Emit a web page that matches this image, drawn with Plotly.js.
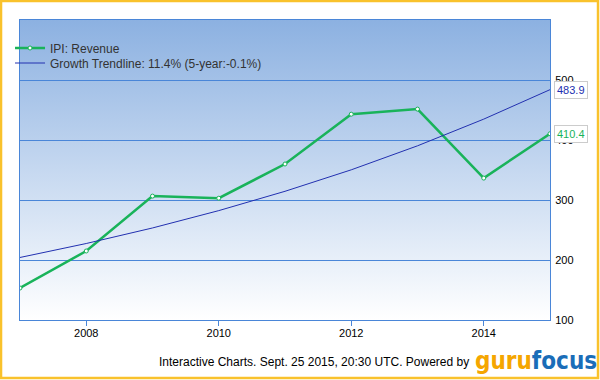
<!DOCTYPE html>
<html><head><meta charset="utf-8">
<script src="https://cdn.plot.ly/plotly-3.0.1.min.js"></script>
<style>html,body{margin:0;padding:0;background:#fff;}#c{width:600px;height:380px;}</style>
</head><body><div id="c"></div>
<script>
const years = [2007, 2008, 2009, 2010, 2011, 2012, 2013, 2014, 2015];
const revenue = [153.3, 215, 306.5, 303, 360, 443, 451.5, 336.5, 410.4];
const trend = [204.2, 227.5, 253.4, 282.3, 314.5, 350.3, 390.3, 434.8, 483.9];
const xTicks = [2008, 2010, 2012, 2014];
const yTicks = [100, 200, 300, 400, 500];
const revName = 'IPI: Revenue';
const trendName = 'Growth Trendline: 11.4% (5-year:-0.1%)';
const footer = 'Interactive Charts. Sept. 25 2015, 20:30 UTC. Powered by';

const grad = 'data:image/svg+xml;utf8,' + encodeURIComponent(
 '<svg xmlns="http://www.w3.org/2000/svg" width="100" height="100" preserveAspectRatio="none"><defs><linearGradient id="g" x1="0" y1="0" x2="0" y2="1"><stop offset="0" stop-color="#8cb1e1"/><stop offset="1" stop-color="#ffffff"/></linearGradient></defs><rect width="100" height="100" fill="url(#g)"/></svg>');

const data = [
 {x: years, y: revenue, name: revName, type: 'scatter', mode: 'lines+markers', legend: 'legend',
  line: {color: '#19b35a', width: 2.5},
  marker: {color: '#ffffff', size: 4, line: {color: '#19b35a', width: 1}}},
 {x: years, y: trend, name: trendName, type: 'scatter', mode: 'lines', legend: 'legend2',
  line: {color: '#2230b0', width: 1}}
];

const legStyle = {xref: 'container', yref: 'container', x: 0.0167, xanchor: 'left', yanchor: 'middle',
 bgcolor: 'rgba(0,0,0,0)', font: {size: 12, color: '#333'}, itemwidth: 30};

const last = years.length - 1;
const layout = {
 width: 600, height: 380,
 margin: {l: 20, r: 50, t: 20, b: 60, autoexpand: false},
 paper_bgcolor: '#ffffff', plot_bgcolor: 'rgba(0,0,0,0)',
 font: {family: 'Arial, Liberation Sans, sans-serif', size: 11, color: '#000'},
 showlegend: true,
 legend: Object.assign({}, legStyle, {y: 1 - 48 / 380}),
 legend2: Object.assign({}, legStyle, {y: 1 - 63 / 380}),
 xaxis: {range: [2007, 2015], tickvals: xTicks, ticktext: xTicks.map(String),
  showgrid: false, zeroline: false, showline: true, linecolor: '#4a86d8', linewidth: 1,
  mirror: true, ticks: 'outside', ticklen: 5, tickcolor: '#4a86d8', ticklabelstandoff: -2,
  fixedrange: true, automargin: false},
 yaxis: {range: [100, 600], tickvals: yTicks, side: 'right', showgrid: true,
  gridcolor: '#4a86d8', gridwidth: 1, zeroline: false, showline: true,
  linecolor: '#4a86d8', mirror: true, ticks: '', ticklabelstandoff: 2, fixedrange: true,
  automargin: false},
 images: [{source: grad, xref: 'paper', yref: 'paper', x: 0, y: 1, sizex: 1, sizey: 1,
  xanchor: 'left', yanchor: 'top', sizing: 'stretch', layer: 'below'}],
 shapes: [{type: 'rect', xref: 'paper', yref: 'paper', x0: -0.0358, x1: 1.0906, y0: -0.1933, y1: 1.0633,
  line: {color: '#f9c22c', width: 2.5}, fillcolor: 'rgba(0,0,0,0)'}],
 annotations: [
  {x: 1, xref: 'paper', y: trend[last], yref: 'y', text: trend[last].toFixed(1), showarrow: false,
   xanchor: 'left', xshift: 4, font: {color: '#2230b0', size: 11}, bgcolor: '#fff',
   bordercolor: '#cccccc', borderwidth: 1, borderpad: 2},
  {x: 1, xref: 'paper', y: revenue[last], yref: 'y', text: revenue[last].toFixed(1), showarrow: false,
   xanchor: 'left', xshift: 4, font: {color: '#19b35a', size: 11}, bgcolor: '#fff',
   bordercolor: '#cccccc', borderwidth: 1, borderpad: 2},
  {x: 0.85, xref: 'paper', y: -0.14, yref: 'paper', text: footer, showarrow: false,
   xanchor: 'right', yanchor: 'middle', font: {size: 12, color: '#000'}},
  {x: 0.855, xref: 'paper', y: -0.135, yref: 'paper',
   text: '<b><span style="color:#f5a600">guru</span><span style="color:#1a6db8">focus</span></b>',
   showarrow: false, xanchor: 'left', yanchor: 'middle',
   font: {size: 24, family: 'DejaVu Sans Condensed, Liberation Sans Narrow, sans-serif'}}
 ]
};
Plotly.newPlot('c', data, layout, {displayModeBar: false, staticPlot: true});
</script></body></html>
